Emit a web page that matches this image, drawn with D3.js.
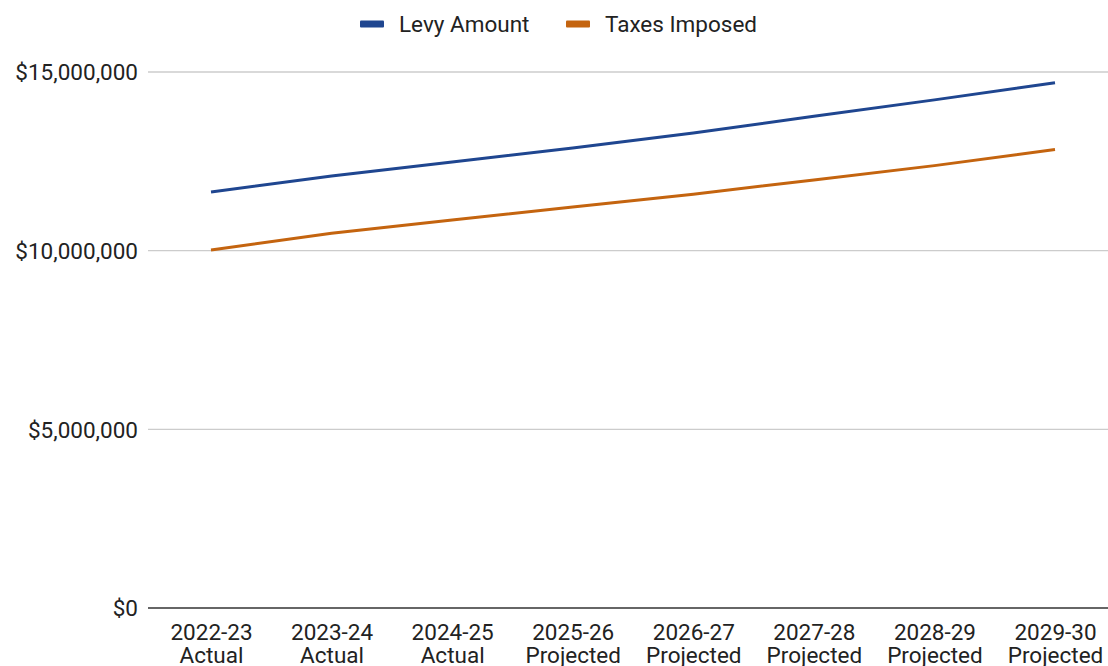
<!DOCTYPE html>
<html><head><meta charset="utf-8">
<script src="https://cdn.jsdelivr.net/npm/d3@7"></script>
<style>body{margin:0;background:#fff;}svg{display:block;font-family:Roboto,sans-serif;}</style>
</head><body><svg id="c" width="1108" height="666"></svg>
<script>
const categories = ["2022-23|Actual","2023-24|Actual","2024-25|Actual","2025-26|Projected","2026-27|Projected","2027-28|Projected","2028-29|Projected","2029-30|Projected"];
const levyAmount = [11640000,12090000,12480000,12870000,13290000,13760000,14220000,14700000];
const taxesImposed = [10020000,10490000,10860000,11220000,11580000,11980000,12380000,12830000];
const yTicks = [0,5000000,10000000,15000000];
const seriesNames = ["Levy Amount","Taxes Imposed"];
const colors = ["#1f4690","#c4640f"];

const svg = d3.select("#c");
const x = d3.scalePoint().domain(categories).range([211,1055]);
const y = d3.scaleLinear().domain([0,15000000]).range([608,72]);
const fmt = v => "$" + d3.format(",")(v);
const FS = 22.5;

// gridlines
svg.append("g").selectAll("line").data(yTicks.filter(d=>d>0)).join("line")
  .attr("x1",148).attr("x2",1108).attr("y1",d=>y(d)).attr("y2",d=>y(d))
  .attr("stroke","#cccccc").attr("stroke-width",1.3);
// y labels
const ya = d3.axisLeft(y).tickValues(yTicks).tickFormat(fmt).tickSize(0).tickPadding(0);
const yg = svg.append("g").attr("transform","translate(138,0)").call(ya);
yg.select(".domain").remove();
yg.selectAll("text").attr("font-size",FS).attr("fill","#222").attr("font-family","Roboto,sans-serif").attr("dy","0.35em");
// baseline
svg.append("line").attr("x1",148).attr("x2",1108).attr("y1",y(0)).attr("y2",y(0)).attr("stroke","#333").attr("stroke-width",1.6);
// x labels
const xa = d3.axisBottom(x).tickSize(0).tickFormat(()=> "");
const xg = svg.append("g").attr("transform",`translate(0,${y(0)})`).call(xa);
xg.select(".domain").remove();
xg.selectAll(".tick").each(function(d){
  const parts = d.split("|");
  const t = d3.select(this).append("text").attr("text-anchor","middle").attr("font-size",FS).attr("fill","#222").attr("font-family","Roboto,sans-serif");
  t.append("tspan").attr("x",0).attr("y",32).text(parts[0]);
  t.append("tspan").attr("x",0).attr("y",55).text(parts[1]);
});
// lines
const line = d3.line().x((d,i)=>x(categories[i])).y(d=>y(d));
[levyAmount,taxesImposed].forEach((s,i)=>{
  svg.append("path").datum(s).attr("d",line).attr("fill","none").attr("stroke",colors[i]).attr("stroke-width",3).attr("stroke-linejoin","round");
});
// legend
const legX = [360,566];
seriesNames.forEach((n,i)=>{
  const g = svg.append("g").attr("transform",`translate(${legX[i]},24)`);
  g.append("rect").attr("x",0).attr("y",-3.5).attr("width",24).attr("height",7).attr("rx",1).attr("fill",colors[i]);
  g.append("text").attr("x",39).attr("y",0).attr("dy","0.35em").attr("font-size",FS).attr("fill","#222").text(n);
});
</script></body></html>
